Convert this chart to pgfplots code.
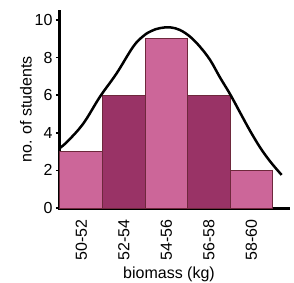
\documentclass[border=0pt]{standalone}
\usepackage{fontspec}
\setmainfont{Liberation Sans}
\usepackage{pgfplots}
\pgfplotsset{compat=1.18}
\definecolor{barlight}{RGB}{204,102,153}
\definecolor{bardark}{RGB}{153,51,102}
\definecolor{baredge}{RGB}{110,40,60}
\begin{document}
\begin{tikzpicture}
\useasboundingbox (-60pt,-74pt) rectangle (234pt,208pt);
\begin{axis}[
  at={(0pt,0pt)}, anchor=south west,
  scale only axis, width=228pt, height=197pt,
  xmin=0, xmax=5.36, ymin=0, ymax=10.48,
  axis x line=bottom, axis y line=left,
  axis line style={-, line width=3pt, line cap=rect},
  xtick={0.5,1.5,2.5,3.5,4.5},
  xticklabels={50-52,52-54,54-56,56-58,58-60},
  x tick style={draw=none},
  ytick={0,2,4,6,8,10},
  y tick style={line width=1.5pt, black},
  tick align=outside, major tick length=4pt,
  /pgf/number format/assume math mode=true,
  tick label style={font=\fontsize{16}{19}\selectfont},
  xticklabel style={rotate=90, anchor=east},
  xticklabel shift=4pt,
  label style={font=\fontsize{16}{19}\selectfont},
  xlabel={biomass (kg)}, ylabel={no. of students},
  ylabel style={yshift=-4pt},
  xlabel style={at={(axis description cs:0.478,0)}, anchor=north, yshift=-55pt},
  clip=false,
]
\addplot[ybar, bar width=1, bar shift=0pt, fill=barlight, draw=baredge, line width=1pt]
  coordinates {(0.5,3) (2.5,9) (4.5,2)};
\addplot[ybar, bar width=1, bar shift=0pt, fill=bardark, draw=baredge, line width=1pt]
  coordinates {(1.5,6) (3.5,6)};
\addplot[black, line width=2.5pt, smooth, tension=0.6] coordinates {
  (0,3.2) (0.18,3.55) (0.55,4.5) (0.94,5.92) (1.33,7.16) (1.72,8.58)
  (1.96,9.15) (2.15,9.42) (2.35,9.57) (2.59,9.61) (2.82,9.47) (3.06,9.11)
  (3.29,8.58) (3.53,7.87) (3.76,6.95) (4.0,6.05) (4.24,5.05) (4.47,4.1)
  (4.71,3.2) (4.95,2.45) (5.21,1.76)
};
\end{axis}
\end{tikzpicture}
\end{document}
